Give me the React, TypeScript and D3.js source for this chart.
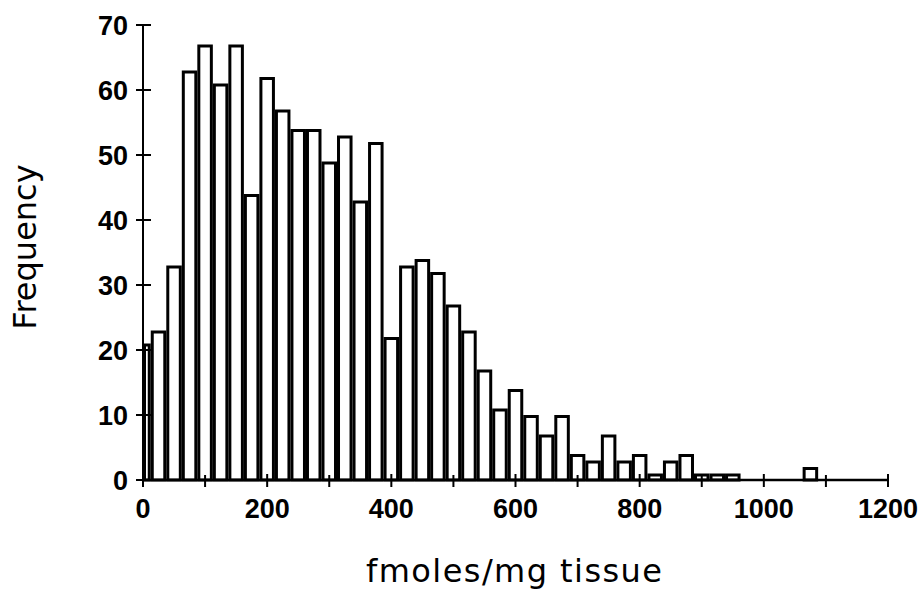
import * as d3 from 'd3'

// histogram, bins of 25 fmoles/mg centred on 0, 25, 50 ... (first bin is a half bin)
const BIN = 25
const counts = [
  21, 23, 33, 63, 67, 61, 67, 44, 62, 57, 54, 54, 49, 53, 43, 52,
  22, 33, 34, 32, 27, 23, 17, 11, 14, 10, 7, 10, 4, 3, 7, 3,
  4, 1, 3, 4, 1, 1, 1, 0, 0, 0, 0, 2,
]
const binMids = d3.range(0, counts.length * BIN, BIN)
const xTicks = [0, 200, 400, 600, 800, 1000, 1200]
const xMinorTicks = [100, 300, 500, 700, 900, 1100]
const yTicks = [0, 10, 20, 30, 40, 50, 60, 70]

const W = 923
const H = 591
const tickFont = "'Liberation Sans', Arial, sans-serif"
const titleFont = "'DejaVu Sans', sans-serif"

export default function App() {
  const x = d3.scaleLinear().domain([0, 1200]).range([143, 888])
  const y = d3.scaleLinear().domain([0, 70]).range([480, 25])
  const y0 = y(0)

  const bars = binMids
    .map((mid, i) => ({ lo: Math.max(0, mid - BIN / 2), hi: mid + BIN / 2, v: counts[i] }))
    .filter((d) => d.v > 0)

  return (
    <svg
      width={W}
      height={H}
      style={{ position: 'absolute', left: 0, top: 0, background: '#fff', display: 'block' }}
    >
      <rect width={W} height={H} fill="#fff" />

      {bars.map((d, i) => {
        const px0 = x(d.lo)
        const px1 = x(d.hi)
        return (
          <rect
            key={i}
            x={px0 + 1.5}
            y={y(d.v) + 1.5}
            width={px1 - px0 - 3}
            height={y0 - y(d.v) - 1.5}
            fill="#fff"
            stroke="#000"
            strokeWidth={3}
          />
        )
      })}

      {/* y axis */}
      <line x1={x(0)} x2={x(0)} y1={y(70)} y2={y0} stroke="#000" strokeWidth={2} />
      {yTicks.map((t) => (
        <g key={t}>
          <line x1={x(0) - 7} x2={x(0) + 8} y1={y(t)} y2={y(t)} stroke="#000" strokeWidth={2} />
          <text
            x={128}
            y={y(t) + 9.5}
            textAnchor="end"
            fontFamily={tickFont}
            fontWeight="bold"
            fontSize={27}
          >
            {t}
          </text>
        </g>
      ))}

      {/* x axis */}
      <line x1={x(0)} x2={x(1200)} y1={y0} y2={y0} stroke="#000" strokeWidth={2.5} />
      {xTicks.map((t) => (
        <g key={t}>
          <line x1={x(t)} x2={x(t)} y1={y0 - 6} y2={y0 + 7} stroke="#000" strokeWidth={2} />
          <text
            x={x(t)}
            y={518}
            textAnchor="middle"
            fontFamily={tickFont}
            fontWeight="bold"
            fontSize={27}
          >
            {t}
          </text>
        </g>
      ))}
      {xMinorTicks.map((t) => (
        <line key={t} x1={x(t)} x2={x(t)} y1={y0 - 5} y2={y0 + 7} stroke="#000" strokeWidth={2} />
      ))}

      {/* axis titles */}
      <text
        x={514}
        y={582}
        textAnchor="middle"
        fontFamily={titleFont}
        fontSize={32}
        textLength={296}
        lengthAdjust="spacing"
      >
        fmoles/mg tissue
      </text>
      <text
        transform="translate(36,247) rotate(-90)"
        textAnchor="middle"
        fontFamily={titleFont}
        fontSize={32}
      >
        Frequency
      </text>
    </svg>
  )
}
